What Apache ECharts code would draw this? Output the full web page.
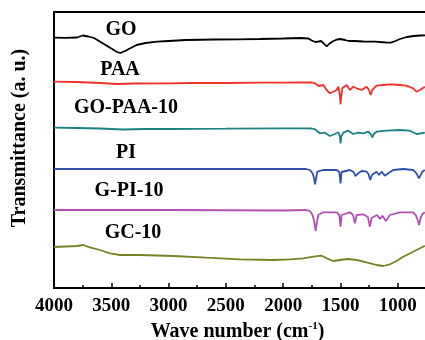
<!DOCTYPE html>
<html>
<head>
<meta charset="utf-8">
<script src="https://cdn.jsdelivr.net/npm/echarts@6/dist/echarts.min.js"></script>
<style>
  html, body { margin: 0; padding: 0; background: #fff; }
  #chart { width: 425px; height: 340px; }
</style>
</head>
<body>
<div id="chart"></div>
<script>
// offset spectra (arbitrary transmittance units, stacked)
var goWn = [4000, 3900, 3800, 3750, 3700, 3650, 3600, 3550, 3500, 3450, 3420, 3380, 3330, 3280, 3200, 3100, 3000, 2850, 2600, 2400, 2200, 2000, 1850, 1780, 1750, 1720, 1690, 1670, 1640, 1620, 1600, 1570, 1530, 1500, 1460, 1430, 1380, 1300, 1200, 1100, 1060, 1020, 980, 920, 860, 800, 760];
var goT = [250.3, 250.2, 250.5, 252.5, 251.5, 250, 246.5, 243, 239.5, 236, 235, 237, 240, 243, 245, 246.3, 247, 248, 248.5, 248.7, 249, 249.5, 250, 249.5, 247.5, 246, 246.5, 247, 244, 241.5, 244, 246.5, 248.5, 249, 248, 247, 247, 246.5, 246.3, 245.5, 245.3, 247, 249, 251, 252, 252.5, 252.7];

var paaWn = [4000, 3800, 3600, 3450, 3300, 3000, 2800, 2500, 2200, 2000, 1800, 1750, 1722, 1690, 1679, 1650, 1620, 1592, 1562, 1533, 1518, 1505, 1499, 1492, 1482, 1446, 1417, 1388, 1359, 1315, 1272, 1250, 1236, 1222, 1214, 1185, 1127, 1068, 981, 923, 865, 836, 806, 763];
var paaT = [206.3, 206, 205, 204, 204.5, 204.7, 205, 205, 205.3, 205.3, 205.7, 205.5, 204.7, 202, 201.3, 203, 198, 194.7, 196.3, 198, 201.3, 193, 183.7, 193, 200, 203, 198, 201.3, 199.7, 198, 201.3, 198, 193, 198, 199.7, 202.3, 203, 203.7, 203, 202.3, 199.7, 196.3, 198, 201.3];

var gopaaWn = [4000, 3800, 3600, 3400, 3200, 3000, 2500, 2000, 1800, 1750, 1722, 1679, 1636, 1592, 1548, 1518, 1505, 1499, 1492, 1475, 1432, 1388, 1345, 1301, 1258, 1235, 1222, 1208, 1185, 1098, 981, 894, 836, 806, 763];
var gopaaT = [160.3, 160, 159.5, 158.5, 159, 159, 159.3, 159.7, 159.7, 159.5, 158.7, 154.7, 155.3, 152, 154, 155.7, 152, 144.7, 152, 155.3, 157.3, 154, 155.3, 154.7, 156.3, 154, 150.7, 154, 156.3, 157.3, 158, 157.3, 154, 154.5, 155.3];

var piWn = [4000, 3000, 2000, 1800, 1766, 1743, 1730, 1722, 1712, 1702, 1650, 1533, 1510, 1499, 1490, 1482, 1417, 1385, 1370, 1364, 1345, 1315, 1272, 1255, 1240, 1225, 1214, 1185, 1162, 1141, 1112, 1083, 1039, 952, 865, 836, 814, 785, 763];
var piT = [119, 119, 119, 119, 118, 114.7, 110, 103.7, 110, 116.3, 118, 118, 116, 104.7, 116, 117, 118, 116, 112, 110.3, 114.7, 117, 116.3, 114, 108, 113, 114.7, 116.3, 113, 116.3, 112.3, 114.7, 118, 119, 118, 114.7, 109.7, 116.3, 118];

var gpiWn = [4000, 3000, 2000, 1800, 1766, 1743, 1728, 1716, 1705, 1693, 1650, 1533, 1510, 1499, 1490, 1475, 1417, 1390, 1373, 1359, 1301, 1260, 1243, 1228, 1214, 1180, 1155, 1133, 1103, 1068, 981, 865, 840, 820, 814, 800, 785, 763];
var gpiT = [78, 78, 77.5, 78, 77, 73, 66, 57, 66, 73, 75.7, 75.7, 73, 61.3, 73, 74.7, 75.7, 73, 64.7, 73, 73.7, 71, 61.3, 70, 71.3, 73, 69, 72.3, 67, 73, 75.7, 75.7, 72.3, 66, 63, 70, 73.7, 75.7];

var gcWn = [4000, 3900, 3800, 3744, 3686, 3599, 3511, 3424, 3250, 2959, 2668, 2377, 2086, 1941, 1825, 1737, 1664, 1620, 1562, 1504, 1432, 1359, 1272, 1185, 1127, 1068, 1010, 952, 865, 806, 763];
var gcT = [41, 41.5, 42, 43, 40.7, 38, 34.7, 33, 33, 32, 30.3, 28.7, 28, 28.7, 29.7, 31.3, 32.3, 29.7, 27, 28, 29, 28, 25.7, 23, 22, 23.7, 27, 31.3, 36.3, 39.7, 42.3];

var names = ['GO', 'PAA', 'GO-PAA-10', 'PI', 'G-PI-10', 'GC-10'];
var colors = ['#000000', '#f0322a', '#1e8282', '#3450aa', '#b450b4', '#788228'];
var wns = [goWn, paaWn, gopaaWn, piWn, gpiWn, gcWn];
var vals = [goT, paaT, gopaaT, piT, gpiT, gcT];
var xTicks = [4000, 3500, 3000, 2500, 2000, 1500, 1000];

var serif = "'Liberation Serif', 'Times New Roman', serif";
var chart = echarts.init(document.getElementById('chart'));

var series = names.map(function (n, k) {
  return {
    name: n,
    type: 'line',
    showSymbol: false,
    animation: false,
    lineStyle: { color: colors[k], width: 1.8 },
    data: wns[k].map(function (w, i) { return [w, vals[k][i]]; })
  };
});

// label spots in pixels
var labelPos = [[121, 30], [120, 70], [126, 108], [126, 153], [129, 191], [133, 233]];

chart.setOption({
  animation: false,
  grid: {
    left: 54, top: 12, right: -30, bottom: 52,
    outerBoundsMode: 'none',
    containLabel: false,
    show: true, borderColor: '#000', borderWidth: 2
  },
  xAxis: {
    type: 'value',
    inverse: true,
    min: 500,
    max: 4000,
    interval: 500,
    name: '{a|Wave number (cm}{s|-1}{a|)}',
    nameLocation: 'middle',
    nameGap: 30,
    nameTextStyle: {
      padding: [0, 34, 0, 0],
      rich: {
        a: { fontFamily: serif, fontWeight: 'bold', fontSize: 20, color: '#000' },
        s: { fontFamily: serif, fontWeight: 'bold', fontSize: 11, color: '#000', verticalAlign: 'top', padding: [0, 0, 10, 0] }
      }
    },
    axisLine: { lineStyle: { color: '#000', width: 2 } },
    axisTick: { inside: true, length: 5, lineStyle: { color: '#000', width: 1.5 } },
    minorTick: { show: true, splitNumber: 2, length: 3, lineStyle: { color: '#000', width: 1.5 } },
    splitLine: { show: false },
    axisLabel: {
      color: '#000', fontFamily: serif, fontWeight: 'bold', fontSize: 19, margin: 9,
      formatter: function (v) { return xTicks.indexOf(v) >= 0 ? String(v) : ''; }
    }
  },
  yAxis: {
    type: 'value',
    min: 0,
    max: 276,
    name: 'Transmittance (a. u.)',
    nameLocation: 'middle',
    nameRotate: 90,
    nameGap: 24,
    nameTextStyle: { fontFamily: serif, fontWeight: 'bold', fontSize: 20, color: '#000', padding: [0, 0, 0, 24] },
    axisLine: { show: true, lineStyle: { color: '#000', width: 2 } },
    axisTick: { show: false },
    axisLabel: { show: false },
    splitLine: { show: false }
  },
  graphic: names.map(function (n, k) {
    return {
      type: 'text',
      x: labelPos[k][0],
      y: labelPos[k][1],
      style: {
        text: n, fill: '#000', font: 'bold 20px ' + serif,
        textAlign: 'center', textVerticalAlign: 'middle'
      }
    };
  }),
  series: series
});
</script>
</body>
</html>
